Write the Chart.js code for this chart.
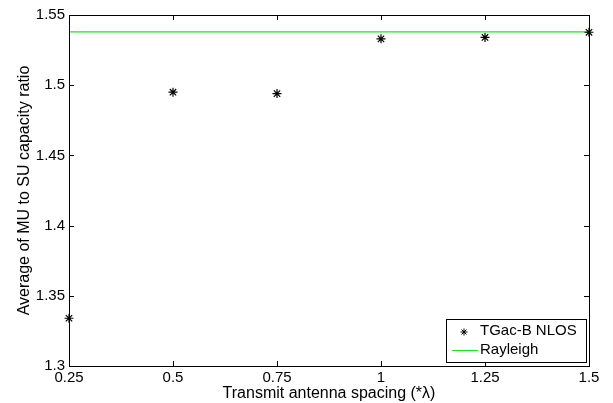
<!DOCTYPE html>
<html>
<head>
<meta charset="utf-8">
<script src="https://cdn.jsdelivr.net/npm/chart.js@4/dist/chart.umd.min.js"></script>
<style>
  html, body { margin: 0; padding: 0; background: #fff; }
  canvas { display: block; }
</style>
</head>
<body>
<canvas id="chart" width="613" height="403"></canvas>
<script>
// data
const spacing = [0.25, 0.5, 0.75, 1.0, 1.25, 1.5];
const tgacRatio = [1.334, 1.495, 1.494, 1.533, 1.534, 1.5377];
const rayleighX = [0.25, 1.5];
const rayleighRatio = [1.538, 1.538];
const xTicks = [0.25, 0.5, 0.75, 1, 1.25, 1.5];
const yTicks = [1.3, 1.35, 1.4, 1.45, 1.5, 1.55];
const legendLabels = ['TGac-B NLOS', 'Rayleigh'];

const FONT = '"Liberation Sans", Arial, sans-serif';
const GREEN = '#1ee61e';

function drawStar(ctx, x, y, r) {
  ctx.beginPath();
  for (let i = 0; i < 4; i++) {
    const a = i * Math.PI / 4;
    ctx.moveTo(x - r * Math.cos(a), y - r * Math.sin(a));
    ctx.lineTo(x + r * Math.cos(a), y + r * Math.sin(a));
  }
  ctx.stroke();
}

// box, inward ticks and the legend, MATLAB style
const matlabBox = {
  id: 'matlabBox',
  afterDatasetsDraw(chart) {
    const { ctx, chartArea: a, scales } = chart;
    ctx.save();
    ctx.strokeStyle = '#000';
    ctx.lineWidth = 1;
    ctx.strokeRect(a.left + 0.5, a.top + 0.5, a.right - a.left, a.bottom - a.top);
    ctx.beginPath();
    xTicks.forEach(v => {
      const px = Math.round(scales.x.getPixelForValue(v)) + 0.5;
      ctx.moveTo(px, a.bottom); ctx.lineTo(px, a.bottom - 5);
      ctx.moveTo(px, a.top); ctx.lineTo(px, a.top + 5);
    });
    yTicks.forEach(v => {
      const py = Math.round(scales.y.getPixelForValue(v)) + 0.5;
      ctx.moveTo(a.left, py); ctx.lineTo(a.left + 5, py);
      ctx.moveTo(a.right, py); ctx.lineTo(a.right - 5, py);
    });
    ctx.stroke();

    // legend
    const lx = 446, ly = 319, lw = 140, lh = 43;
    ctx.fillStyle = '#fff';
    ctx.fillRect(lx, ly, lw, lh);
    ctx.strokeStyle = '#000';
    ctx.strokeRect(lx + 0.5, ly + 0.5, lw, lh);
    ctx.font = '15px ' + FONT;
    ctx.fillStyle = '#000';
    ctx.textBaseline = 'middle';
    ctx.textAlign = 'left';
    drawStar(ctx, 464, 332, 3.5);
    ctx.fillText(legendLabels[0], 480, 331);
    ctx.strokeStyle = GREEN;
    ctx.beginPath();
    ctx.moveTo(452, 350.5); ctx.lineTo(478, 350.5);
    ctx.stroke();
    ctx.fillText(legendLabels[1], 480, 350);
    ctx.restore();
  }
};

new Chart(document.getElementById('chart'), {
  type: 'scatter',
  data: {
    datasets: [
      {
        label: legendLabels[0],
        data: spacing.map((x, i) => ({ x, y: tgacRatio[i] })),
        pointStyle: 'star',
        pointRadius: 4.5,
        pointBorderWidth: 1.2,
        borderColor: '#000',
        backgroundColor: '#000',
        showLine: false,
        clip: false
      },
      {
        label: legendLabels[1],
        data: rayleighX.map((x, i) => ({ x, y: rayleighRatio[i] })),
        showLine: true,
        borderColor: GREEN,
        borderWidth: 1.3,
        pointRadius: 0
      }
    ]
  },
  options: {
    responsive: false,
    animation: false,
    layout: { padding: { top: 15, right: 24, left: 0, bottom: 0 } },
    plugins: { legend: { display: false }, tooltip: { enabled: false } },
    scales: {
      x: {
        type: 'linear',
        min: 0.25,
        max: 1.5,
        afterBuildTicks: s => { s.ticks = xTicks.map(v => ({ value: v })); },
        afterFit: s => { s.height = 37; },
        grid: { display: false, drawTicks: false },
        border: { display: false },
        ticks: { color: '#000', font: { family: FONT, size: 15 }, padding: 3, maxRotation: 0, callback: v => String(v) },
        title: { display: true, text: 'Transmit antenna spacing (*λ)', color: '#000', font: { family: FONT, size: 16 }, padding: { top: 0, bottom: 0 } }
      },
      y: {
        min: 1.3,
        max: 1.55,
        afterBuildTicks: s => { s.ticks = yTicks.map(v => ({ value: v })); },
        afterFit: s => { s.width = 69; },
        grid: { display: false, drawTicks: false },
        border: { display: false },
        ticks: { color: '#000', font: { family: FONT, size: 15 }, padding: 4, callback: v => String(v) },
        title: { display: true, text: 'Average of MU to SU capacity ratio', color: '#000', font: { family: FONT, size: 16 }, padding: { top: 15, bottom: 0 } }
      }
    }
  },
  plugins: [matlabBox]
});
</script>
</body>
</html>
